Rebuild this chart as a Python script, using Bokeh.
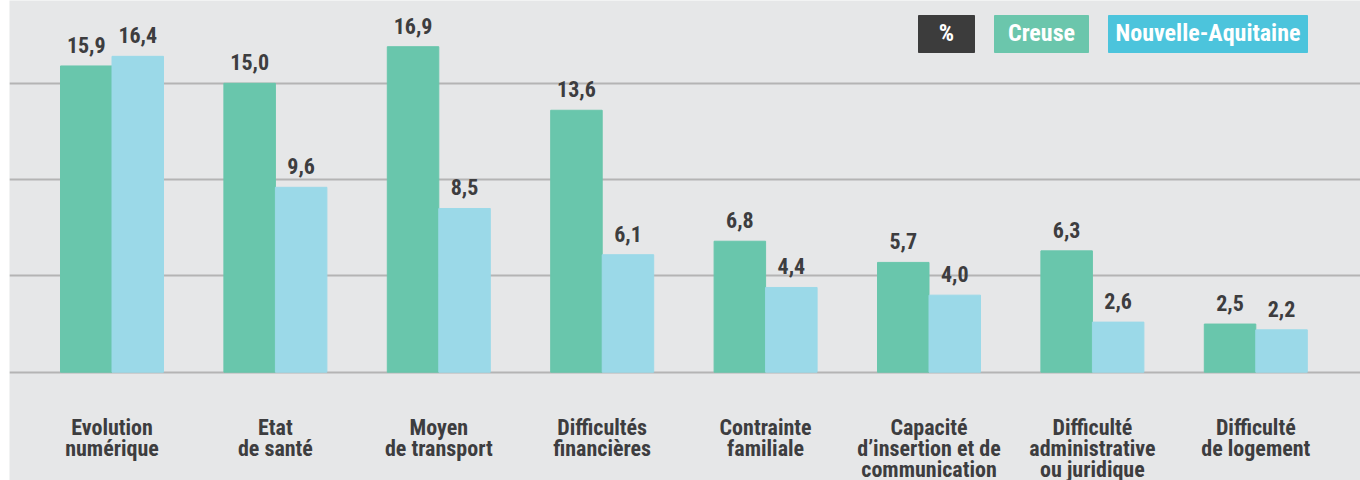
from bokeh.plotting import figure
from bokeh.models import Range1d, ColumnDataSource, Grid, FixedTicker
from bokeh.core.properties import value
from bokeh.embed import file_html
from bokeh.resources import INLINE

# ---- data ----
categories = ["Evolution\nnumérique", "Etat\nde santé", "Moyen\nde transport",
              "Difficultés\nfinancières", "Contrainte\nfamiliale",
              "Capacité\nd’insertion et de\ncommunication",
              "Difficulté\nadministrative\nou juridique", "Difficulté\nde logement"]
creuse = [15.9, 15.0, 16.9, 13.6, 6.8, 5.7, 6.3, 2.5]
nouvelle_aquitaine = [16.4, 9.6, 8.5, 6.1, 4.4, 4.0, 2.6, 2.2]
grid_ticks = [0, 5, 10, 15]
legend_labels = ["%", "Creuse", "Nouvelle-Aquitaine"]

# ---- style ----
FONT = value("'Roboto Condensed', 'Liberation Sans Narrow', 'Roboto', sans-serif")
BG = "#e6e7e8"
GREEN = "#69c6ac"
CYAN = "#9bd9e8"
TEXT = "#3d3d3f"
LEG_COLORS = ["#3c3c3c", "#6bc6ac", "#4cc4dc"]

# pixel geometry helpers (picture px -> data)
X0, PITCH = 111.5, 163.4
BASE, PPU = 371.7, 19.26
def dx(px):
    return (px - X0) / PITCH
def dy(py):
    return (BASE - py) / PPU

W, H = 1360, 480
LEFT = 9
p = figure(width=W, height=H, output_backend="svg", toolbar_location=None,
           x_range=Range1d(dx(LEFT), dx(W)), y_range=Range1d(dy(H), dy(0)),
           x_axis_type=None, y_axis_type=None,
           min_border_left=LEFT, min_border_right=0, min_border_top=0, min_border_bottom=0)
p.background_fill_color = BG
p.border_fill_color = "white"
p.outline_line_color = None

g = Grid(dimension=1, ticker=FixedTicker(ticks=grid_ticks),
         grid_line_color="#b4b4b4", grid_line_width=2, level="underlay")
p.add_layout(g)

n = len(categories)
xs = list(range(n))
bw = 51.5 / PITCH
src = ColumnDataSource(dict(
    xg=[x - bw / 2 for x in xs], xc=[x + bw / 2 for x in xs],
    creuse=creuse, na=nouvelle_aquitaine,
    lc=[f"{v:.1f}".replace(".", ",") for v in creuse],
    ln=[f"{v:.1f}".replace(".", ",") for v in nouvelle_aquitaine],
))
p.vbar(x="xg", top="creuse", bottom=0, width=bw, color=GREEN, source=src)
p.vbar(x="xc", top="na", bottom=0, width=bw, color=CYAN, source=src)

for col, ycol in (("xg", "creuse"), ("xc", "na")):
    p.text(x=col, y=ycol, text="lc" if ycol == "creuse" else "ln", source=src,
           text_align="center", text_baseline="alphabetic", y_offset=-21,
           text_font=FONT, text_font_style="bold", text_font_size="22px",
           text_color=TEXT)

# category labels (multi-line)
lx, ly, lt, lo = [], [], [], []
for i, c in enumerate(categories):
    for j, line in enumerate(c.split("\n")):
        lx.append(i); ly.append(0); lt.append(line); lo.append(55.5 + 21 * j)
p.text(x=lx, y=ly, text=lt, y_offset=lo, text_align="center",
       text_baseline="alphabetic", text_font=FONT, text_font_style="bold",
       text_font_size="22px", text_color=TEXT)

# legend boxes
boxes = [(918, 974), (994, 1088), (1108, 1307)]
for (l, r), lab, colr in zip(boxes, legend_labels, LEG_COLORS):
    p.quad(left=dx(l), right=dx(r), top=dy(15), bottom=dy(52), color=colr)
    p.text(x=[dx((l + r) / 2)], y=[dy(32.5)], text=[lab], text_align="center",
           text_baseline="alphabetic", text_font=FONT, text_font_style="bold",
           text_font_size="24px", text_color="white")

open("out.html", "w").write(file_html(p, INLINE))
